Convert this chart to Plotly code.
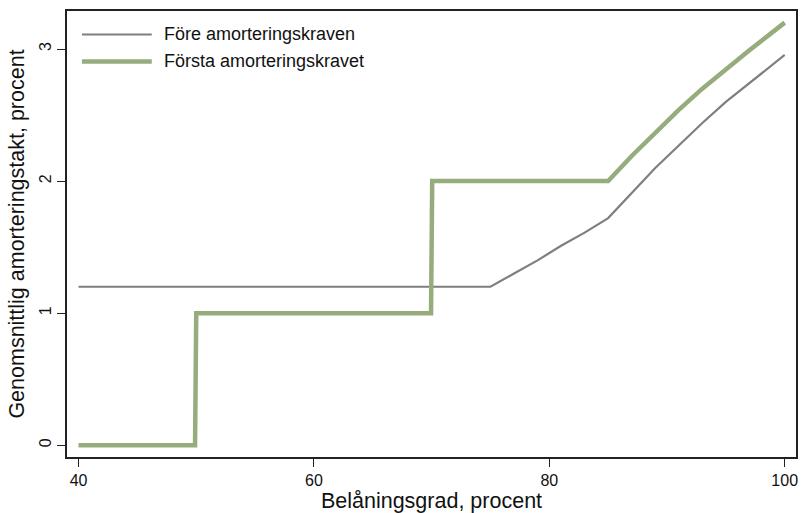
import plotly.graph_objects as go

# Data
x_fore = [40, 75, 77, 79, 81, 83, 85, 87, 89, 91, 93, 95, 97, 99, 100]
y_fore = [1.2, 1.2, 1.30, 1.40, 1.51, 1.61, 1.72, 1.91, 2.10, 2.27, 2.44, 2.60, 2.74, 2.88, 2.955]

x_forsta = [40, 49.9, 50.0, 69.95, 70.05, 85, 87, 89, 91, 93, 95, 97, 99, 100]
y_forsta = [0, 0, 1, 1, 2, 2, 2.19, 2.37, 2.54, 2.70, 2.85, 2.99, 3.13, 3.20]

series_names = ["Före amorteringskraven", "Första amorteringskravet"]
x_ticks = [40, 60, 80, 100]
y_ticks = [0, 1, 2, 3]

GRAY = "#7f7f7f"
GREEN = "#97ac7c"
FONT = "Arial, Liberation Sans, sans-serif"

fig = go.Figure()
fig.add_trace(go.Scatter(x=x_fore, y=y_fore, mode="lines", name=series_names[0],
                         line=dict(color=GRAY, width=2.2), showlegend=False))
fig.add_trace(go.Scatter(x=x_forsta, y=y_forsta, mode="lines", name=series_names[1],
                         line=dict(color=GREEN, width=4.5), showlegend=False))

# Manual legend (line samples + text)
W, H = 802, 513
ml, mr, mt, mb = 67, 4, 11, 56
pw, ph = W - ml - mr, H - mt - mb
def px(xp):
    return (xp - ml) / pw
def py(yp):
    return 1 - (yp - mt) / ph

for i, (name, col, wd) in enumerate([(series_names[0], GRAY, 2.2), (series_names[1], GREEN, 4.5)]):
    yy = 34.5 + i * 27
    fig.add_shape(type="line", xref="paper", yref="paper",
                  x0=px(82), x1=px(152), y0=py(yy), y1=py(yy),
                  line=dict(color=col, width=wd))
    fig.add_annotation(xref="paper", yref="paper", x=px(162), y=py(yy),
                       text=name, showarrow=False, xanchor="left", yanchor="middle",
                       font=dict(size=18, color="#111111", family=FONT))

fig.update_layout(
    width=W, height=H,
    margin=dict(l=ml, r=mr, t=mt, b=mb),
    paper_bgcolor="white", plot_bgcolor="white",
    font=dict(family=FONT, color="#111111"),
)
fig.update_xaxes(range=[39.02, 100.96], tickvals=x_ticks, ticktext=[str(v) for v in x_ticks],
                 showgrid=False, zeroline=False, showline=True, mirror=True,
                 linecolor="#222222", linewidth=1.5, ticks="outside", ticklen=8,
                 tickcolor="#222222", tickfont=dict(size=16),
                 title=dict(text="Belåningsgrad, procent", font=dict(size=21.5), standoff=0))
fig.update_yaxes(range=[-0.089, 3.288], tickvals=y_ticks, ticktext=[str(v) for v in y_ticks],
                 showgrid=False, zeroline=False, showline=True, mirror=True,
                 linecolor="#222222", linewidth=1.5, ticks="outside", ticklen=8,
                 tickcolor="#222222", tickfont=dict(size=16), tickangle=-90,
                 title=dict(text="Genomsnittlig amorteringstakt, procent", font=dict(size=21.5), standoff=6))

fig.write_html("out.html", config={"displayModeBar": False},
               post_script="document.body.style.margin='0';")
